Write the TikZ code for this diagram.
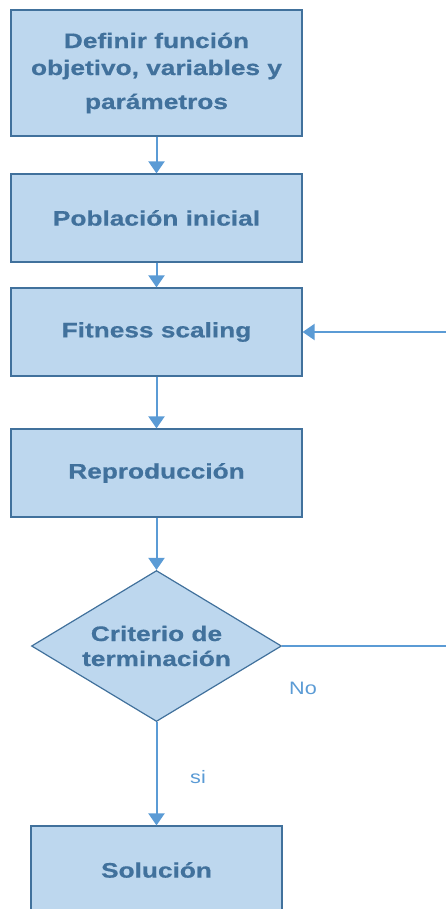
\documentclass[tikz,border=0pt]{standalone}
\usepackage{fontspec}
\usetikzlibrary{shapes.geometric, arrows.meta}
\newfontfamily\boxfont[FakeStretch=1.25, BoldFeatures={FakeBold=0.6}]{Liberation Sans}
\newfontfamily\labfont[FakeStretch=1.2]{Liberation Sans}
\definecolor{boxfill}{HTML}{BDD7EE}
\definecolor{boxline}{HTML}{41719C}
\definecolor{arrowblue}{HTML}{5B9BD5}

\begin{document}
\begin{tikzpicture}[x=1pt, y=-1pt,
    box/.style={draw=boxline, fill=boxfill, line width=1.2pt, minimum width=291pt,
        minimum height=88pt, align=center, inner sep=0pt, text=boxline,
        font=\boxfont\bfseries\fontsize{21}{27}\selectfont},
    decision/.style={box, shape=diamond, aspect=1.66, minimum width=250pt,
        minimum height=151pt, font=\boxfont\bfseries\fontsize{21}{25}\selectfont},
    flow/.style={draw=arrowblue, line width=2pt, -{Triangle[width=16pt,length=12pt]}},
    answer/.style={text=arrowblue, font=\labfont\fontsize{18}{20}\selectfont}]
    \useasboundingbox (0,0) rectangle (446,909);

    % Draw the boxes
    \node[box, minimum height=126pt] (def) at (156.5,73)
        {Definir función\\objetivo, variables y\\[7pt]parámetros};
    \node[box] (pob) at (156.5,218) {Población inicial};
    \node[box] (fit) at (156.5,332) {Fitness scaling};
    \node[box] (rep) at (156.5,473) {Reproducción};
    \node[decision] (crit) at (156.5,646) {Criterio de\\terminación};
    \node[box, minimum width=251pt] (sol) at (156.5,870) {Solución};

    % Draw the arrows
    \draw[flow] (def) -- (pob);
    \draw[flow] (pob) -- (fit);
    \draw[flow] (fit) -- (rep);
    \draw[flow] (rep) -- (crit);
    \draw[flow] (crit) -- (sol);

    % Loop back
    \coordinate (loop) at (449,646);
    \draw[flow] (crit.east) -- (loop) |- (fit.east);

    % Label the answers
    \node[answer] (no) at (303,688) {No};
    \node[answer] (si) at (198,777) {si};
\end{tikzpicture}
\end{document}
